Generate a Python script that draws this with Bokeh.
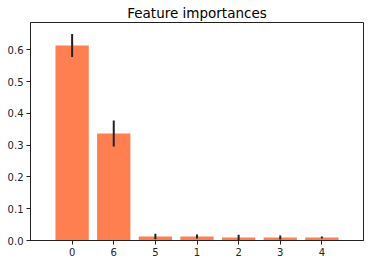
import numpy as np
from bokeh.plotting import figure
from bokeh.models import Range1d, FixedTicker, NumeralTickFormatter, ColumnDataSource
from bokeh.embed import file_html
from bokeh.resources import INLINE

features = ["0", "6", "5", "1", "2", "3", "4"]
importances = [0.6136, 0.3367, 0.0126, 0.0126, 0.0095, 0.0095, 0.0092]
stds = [0.0360, 0.0410, 0.0090, 0.0060, 0.0085, 0.0060, 0.0030]
y_ticks = [0.0, 0.1, 0.2, 0.3, 0.4, 0.5, 0.6]

xs = list(range(len(features)))
lower = [max(v - s, 0.0) for v, s in zip(importances, stds)]
upper = [v + s for v, s in zip(importances, stds)]
src = ColumnDataSource(dict(x=xs, top=importances, lo=lower, hi=upper))

p = figure(width=372, height=264, output_backend="svg", toolbar_location=None,
           x_range=Range1d(-1, 7), y_range=Range1d(0, 0.686),
           title="Feature importances",
           min_border_left=30, min_border_right=9, min_border_bottom=24, min_border_top=22)

p.vbar(x="x", top="top", width=0.8, bottom=0, source=src, color="#ff7f50", line_color=None)
p.segment(x0="x", y0="lo", x1="x", y1="hi", source=src, line_color="#222222", line_width=2)

p.title.align = "center"
p.title.text_font = "DejaVu Sans"
p.title.text_font_size = "13.5px"
p.title.text_font_style = "normal"
p.title.text_color = "#000000"
p.title.standoff = 4

p.xgrid.visible = False
p.ygrid.visible = False
p.outline_line_color = "#222222"
p.outline_line_width = 1
p.outline_line_alpha = 1

p.xaxis.ticker = FixedTicker(ticks=xs)
p.xaxis.major_label_overrides = {i: f for i, f in enumerate(features)}
p.yaxis.ticker = FixedTicker(ticks=y_ticks)
p.yaxis.formatter = NumeralTickFormatter(format="0.0")

for ax in (p.xaxis[0], p.yaxis[0]):
    ax.major_label_text_font = "DejaVu Sans"
    ax.major_label_text_font_size = "10px"
    ax.major_label_text_color = "#222222"
    ax.major_tick_out = 4
    ax.major_tick_in = 0
    ax.minor_tick_line_color = None
    ax.axis_line_color = "#222222"
    ax.major_tick_line_color = "#222222"
    ax.major_label_standoff = 3

p.background_fill_color = "white"
p.border_fill_color = "white"

open("out.html", "w").write(file_html(p, INLINE))
